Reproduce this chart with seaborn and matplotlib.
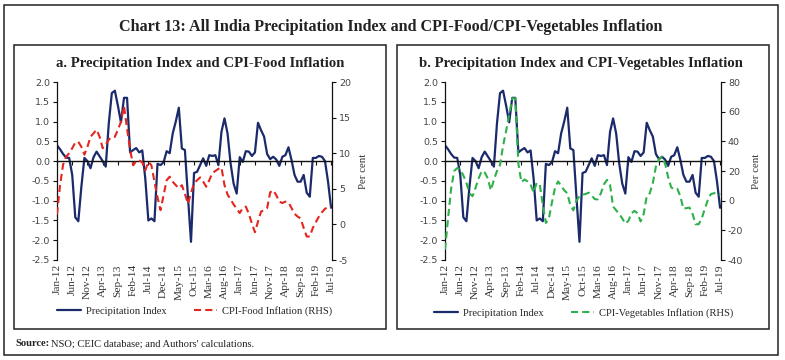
import numpy as np
import pandas as pd
import matplotlib
matplotlib.use("Agg")
import matplotlib.pyplot as plt
import seaborn as sns
from matplotlib.patches import Rectangle
from matplotlib.ticker import FormatStrFormatter

# ---------------- data ----------------
months = pd.date_range("2012-01-01", "2019-07-01", freq="MS").strftime("%b-%y").tolist()
tick_labels = months[::5]

precip = [0.40, 0.30, 0.18, 0.09, 0.08, -0.35, -1.42, -1.52, -0.65, 0.08,
          0.00, -0.18, 0.10, 0.24, 0.12, 0.00, -0.14, 0.95, 1.72, 1.78,
          1.40, 0.98, 1.60, 1.60, 0.22, 0.28, 0.33, 0.22, 0.27, -0.45,
          -1.50, -1.45, -1.52, -0.07, -0.10, -0.03, 0.25, 0.20, 0.70, 1.00,
          1.35, 0.32, 0.28, -0.90, -2.04, -0.30, -0.27, -0.10, 0.07, -0.12,
          0.15, 0.13, 0.15, -0.10, 0.74, 1.08, 0.70, -0.06, -0.57, -0.82,
          0.10, -0.02, 0.25, 0.24, 0.13, 0.22, 0.97, 0.78, 0.62, 0.18,
          0.05, 0.11, 0.04, -0.12, 0.11, 0.15, 0.35, 0.03, -0.35, -0.52,
          -0.52, -0.35, -0.80, -0.90, 0.08, 0.08, 0.13, 0.11, 0.00, -0.52,
          -1.18]

cpi_food = [1.4, 5.5, 8.4, 9.5, 10.0, 10.7, 11.5, 11.6, 10.9, 9.8,
            10.9, 12.3, 12.8, 13.3, 12.3, 10.7, 11.2, 11.9, 12.3, 12.3,
            13.3, 14.4, 16.6, 13.5, 10.5, 8.3, 8.9, 9.0, 8.7, 7.6,
            8.8, 8.3, 6.0, 3.8, 2.0, 4.1, 6.2, 6.7, 6.0, 5.5,
            5.1, 5.5, 4.3, 2.9, 4.4, 5.8, 6.2, 6.6, 6.0, 5.3,
            6.2, 7.2, 7.5, 7.8, 8.0, 5.5, 4.2, 3.5, 2.8, 2.2,
            1.6, 2.3, 2.5, 1.5, 0.1, -1.1, 0.4, 1.8, 2.0, 2.3,
            4.5, 4.8, 4.1, 3.2, 3.0, 3.2, 3.1, 2.3, 1.5, 1.1,
            0.85, -0.5, -1.7, -1.7, -0.5, 0.3, 1.1, 1.7, 2.2, 2.4,
            2.4]

cpi_veg = [-33, -12, 8, 20, 22, 21, 17, 12, 5, 3,
           8.7, 15, 20, 19, 15, 7, 14, 20, 24, 37,
           47, 58, 69, 69, 25, 12.5, 14.3, 13, 11, 5.5,
           12, 11, -3, -15, -12, -1, 8.7, 13, 10, 7,
           5, -3, -6.5, 0, 3, 4, 4.5, 5.4, 3.5, 1,
           0.9, 5, 11, 14, 10.5, -4, -6.5, -9, -12, -15.5,
           -13.6, -8.5, -6.9, -8.5, -14, -9, 3, 5, 12, 23,
           28, 29.5, 25, 16, 9, 7.6, 8.0, 3, -5.5, -5,
           -4.7, -9, -15.9, -15.9, -12, -5.5, 0.5, 4.5, 5.0, 5.5,
           4.0]

NAVY = "#1B2A6B"
RED = "#E3261E"
GREEN = "#2EB04A"

sns.set_style("white")
plt.rcParams["font.family"] = ["Liberation Serif", "DejaVu Serif"]
plt.rcParams["axes.unicode_minus"] = False

W, H = 785, 360
fig = plt.figure(figsize=(W / 100, H / 100), dpi=100)


def fx(px):
    return px / W


def fy(py):
    return 1 - py / H


# frames
fig.add_artist(Rectangle((fx(4), fy(355)), fx(774), 350 / H, transform=fig.transFigure,
                         fill=False, ec="#222222", lw=1.1))
for x0 in (14, 397):
    fig.add_artist(Rectangle((fx(x0), fy(329)), fx(372), 284 / H, transform=fig.transFigure,
                             fill=False, ec="#222222", lw=1.1))

fig.text(fx(391), fy(27), "Chart 13: All India Precipitation Index and CPI-Food/CPI-Vegetables Inflation",
         ha="center", va="center", fontsize=11.6, fontweight="bold", color="#222222")

df = pd.DataFrame({"t": np.arange(len(months)), "precip": precip,
                   "food": cpi_food, "veg": cpi_veg})


def panel(left, right, col, color, lim, ticks, sub, sub_cx, legend_label, leg_cx, leg_cy):
    ax = fig.add_axes([fx(left), fy(260), fx(right - left), 178 / H])
    ax.set_facecolor("none")
    sns.lineplot(data=df, x="t", y="precip", ax=ax, color=NAVY, lw=1.6)
    ax2 = ax.twinx()
    sns.lineplot(data=df, x="t", y=col, ax=ax2, color=color, lw=1.5,
                 linestyle=(0, (3.4, 2.0)))
    ax.set_xlim(0, 90.3)
    ax.set_ylim(-2.5, 2.0)
    ax.set_yticks(np.arange(-2.5, 2.01, 0.5))
    ax.yaxis.set_major_formatter(FormatStrFormatter("%.1f"))
    ax.set_xticks(range(0, len(months), 5))
    ax.set_xticklabels(tick_labels)
    ax.set_xlabel("")
    ax.set_ylabel("")
    ax2.set_xlabel("")
    ax2.set_ylim(*lim)
    ax2.set_yticks(ticks)
    ax2.set_ylabel("Per cent", fontsize=7.8, color="#333333", labelpad=6)

    for s in ("bottom", "right"):
        ax.spines[s].set_visible(False)
    ax.spines["top"].set_position(("data", 0))
    ax.spines["top"].set_color("#111111")
    ax.spines["top"].set_linewidth(1.0)
    ax.spines["left"].set_color("#111111")
    ax.spines["left"].set_linewidth(0.9)
    for s in ("top", "bottom", "left"):
        ax2.spines[s].set_visible(False)
    ax2.spines["right"].set_color("#111111")
    ax2.spines["right"].set_linewidth(0.9)

    ax.tick_params(axis="x", which="both", top=True, bottom=False, labeltop=False,
                   labelbottom=True, direction="in", length=3, width=0.8, pad=3,
                   color="#111111", labelrotation=90, labelsize=8.2, labelcolor="#333333")
    ax.tick_params(axis="y", direction="out", length=3, width=0.8, labelsize=6.8,
                   labelcolor="#444444", pad=2, left=True, color="#111111")
    ax2.tick_params(axis="y", direction="out", length=3, width=0.8, labelsize=6.8,
                    labelcolor="#444444", pad=2, right=True, color="#111111")
    for lbl in ax.get_yticklabels() + ax2.get_yticklabels():
        lbl.set_fontfamily("DejaVu Sans")

    fig.text(fx(sub_cx), fy(63), sub, ha="center", va="center", fontsize=10.6,
             fontweight="bold", color="#222222")
    h1 = ax.get_lines()[0]
    h2 = ax2.get_lines()[0]
    fig.legend([h1, h2], ["Precipitation Index", legend_label], loc="center",
               bbox_to_anchor=(fx(leg_cx), fy(leg_cy)), ncol=2, frameon=False,
               fontsize=7.6, handlelength=2.2, columnspacing=2.6, handletextpad=0.5)
    return ax, ax2


panel(57, 332, "food", RED, (-5, 20), list(range(-5, 21, 5)),
      "a. Precipitation Index and CPI-Food Inflation", 200,
      "CPI-Food Inflation (RHS)", 195, 311)
panel(445, 721, "veg", GREEN, (-40, 80), list(range(-40, 81, 20)),
      "b. Precipitation Index and CPI-Vegetables Inflation", 581,
      "CPI-Vegetables Inflation (RHS)", 584, 313)

fig.text(fx(15), fy(344), "Source:", fontsize=7.6, fontweight="bold", va="center", ha="left",
         color="#222222")
fig.text(fx(51), fy(344), "NSO; CEIC database; and Authors' calculations.", fontsize=7.6,
         va="center", ha="left", color="#222222")

fig.savefig("out.png", dpi=100)
